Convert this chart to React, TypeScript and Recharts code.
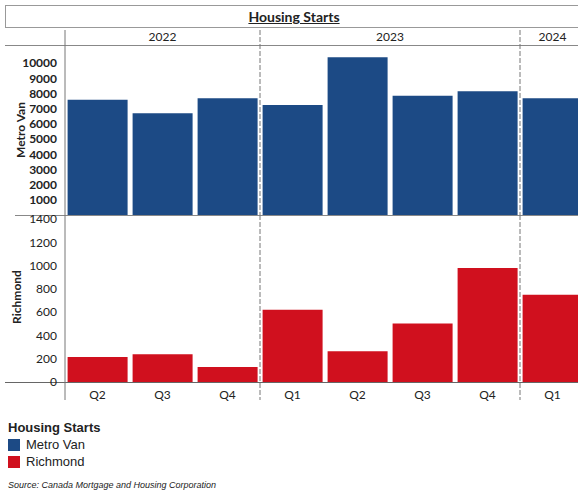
import { BarChart, Bar, XAxis, YAxis } from 'recharts';

// quarterly housing starts, Q2 2022 - Q1 2024
const quarters = ['Q2', 'Q3', 'Q4', 'Q1', 'Q2', 'Q3', 'Q4', 'Q1'];
const years = ['2022', '2022', '2022', '2023', '2023', '2023', '2023', '2024'];
const metroVan = [7600, 6700, 7700, 7250, 10400, 7850, 8150, 7700];
const richmond = [215, 238, 128, 621, 264, 502, 979, 749];

const metroTicks = [1000, 2000, 3000, 4000, 5000, 6000, 7000, 8000, 9000, 10000];
const richmondTicks = [0, 200, 400, 600, 800, 1000, 1200, 1400];

const data = quarters.map((q, i) => ({
  key: `${years[i]}-${q}`,
  quarter: q,
  year: years[i],
  metroVan: metroVan[i],
  richmond: richmond[i],
}));

const BLUE = '#1c4a85';
const RED = '#d0101e';
const FONT = 'Lato, "Open Sans", sans-serif';

const CHART_W = 590;
const Y_W = 65;
const RIGHT = 5;
const BAND = (CHART_W - Y_W - RIGHT) / data.length;

const isYearStart = (i: number) => i === 0 || years[i] !== years[i - 1];
const yearCount = (y: string) => years.filter((v) => v === y).length;

const YearTick = (props: any) => {
  const { x, y, index } = props;
  if (!isYearStart(index)) return <g />;
  const yr = years[index];
  const left = x - BAND / 2;
  const cx = left + (yearCount(yr) * BAND) / 2;
  return (
    <g>
      <line x1={left} x2={left} y1={10} y2={195} stroke="#777" strokeWidth={1} strokeDasharray={index === 0 ? undefined : '5 2'} />
      <text x={cx} y={y + 4} textAnchor="middle" fontSize={12} fill="#222" fontFamily={FONT}>
        {yr}
      </text>
    </g>
  );
};

const QuarterTick = (props: any) => {
  const { x, y, index } = props;
  const left = x - BAND / 2;
  return (
    <g>
      {isYearStart(index) && (
        <line x1={left} x2={left} y1={10} y2={195} stroke="#777" strokeWidth={1} strokeDasharray={index === 0 ? undefined : '5 2'} />
      )}
      <text x={x} y={y} dy="0.71em" textAnchor="middle" fontSize={12} fill="#222" fontFamily={FONT}>
        {quarters[index]}
      </text>
    </g>
  );
};

const hline = (top: number, left: number, color = '#888') => (
  <div style={{ position: 'absolute', top, left, width: 578 - left, height: 1, background: color }} />
);

export default function App() {
  return (
    <div style={{ position: 'absolute', left: 0, top: 0, width: 578, height: 493, overflow: 'hidden', background: '#fff', fontFamily: FONT }}>
      {/* title box */}
      <div style={{ position: 'absolute', left: 5, top: 5, width: 590, height: 21, border: '1px solid #999' }} />
      <div style={{ position: 'absolute', left: 0, top: 8, width: 588, textAlign: 'center', fontSize: 14, fontWeight: 700, color: '#222', textDecoration: 'underline' }}>
        Housing Starts
      </div>
      {hline(45, 5)}
      {hline(215, 15)}
      {hline(382, 5, '#666')}

      <div style={{ position: 'absolute', left: 0, top: 20 }}>
        <BarChart width={CHART_W} height={195} data={data} margin={{ top: 0, right: RIGHT, left: 0, bottom: 0 }} barCategoryGap="4%">
          <XAxis dataKey="key" hide />
          <XAxis xAxisId="year" dataKey="key" orientation="top" height={25} axisLine={false} tickLine={false} interval={0} tick={<YearTick />} />
          <YAxis
            width={Y_W}
            domain={[0, 11200]}
            ticks={metroTicks}
            interval={0}
            axisLine={false}
            tickLine={false}
            tick={{ fontSize: 12, fill: '#222', fontFamily: FONT, fontWeight: 700 }}
          />
          <Bar dataKey="metroVan" fill={BLUE} isAnimationActive={false} />
        </BarChart>
      </div>

      <div style={{ position: 'absolute', left: 0, top: 205 }}>
        <BarChart width={CHART_W} height={200} data={data} margin={{ top: 14, right: RIGHT, left: 0, bottom: 0 }} barCategoryGap="4%">
          <XAxis dataKey="key" height={23} axisLine={false} tickLine={false} interval={0} tick={<QuarterTick />} />
          <YAxis
            width={Y_W}
            domain={[0, 1400]}
            ticks={richmondTicks}
            interval={0}
            axisLine={false}
            tickLine={false}
            tick={{ fontSize: 12, fill: '#222', fontFamily: FONT }}
          />
          <Bar dataKey="richmond" fill={RED} isAnimationActive={false} />
        </BarChart>
      </div>

      {/* rotated axis titles */}
      <div style={{ position: 'absolute', left: 20, top: 130, transform: 'translate(-50%, -50%) rotate(-90deg)', fontSize: 12, fontWeight: 700, color: '#222', whiteSpace: 'nowrap' }}>
        Metro Van
      </div>
      <div style={{ position: 'absolute', left: 16, top: 297, transform: 'translate(-50%, -50%) rotate(-90deg)', fontSize: 12, fontWeight: 700, color: '#222', whiteSpace: 'nowrap' }}>
        Richmond
      </div>

      {/* legend */}
      <div style={{ position: 'absolute', left: 8, top: 419, fontFamily: 'Liberation Sans, Arial, sans-serif', color: '#222' }}>
        <div style={{ fontSize: 13, fontWeight: 700, lineHeight: '17px' }}>Housing Starts</div>
        {[
          { name: 'Metro Van', color: BLUE },
          { name: 'Richmond', color: RED },
        ].map((s) => (
          <div key={s.name} style={{ display: 'flex', alignItems: 'center', height: 17, fontSize: 13 }}>
            <span style={{ width: 12, height: 12, background: s.color, marginRight: 6 }} />
            {s.name}
          </div>
        ))}
        <div style={{ fontSize: 9, fontStyle: 'italic', marginTop: 10 }}>Source: Canada Mortgage and Housing Corporation</div>
      </div>
    </div>
  );
}
